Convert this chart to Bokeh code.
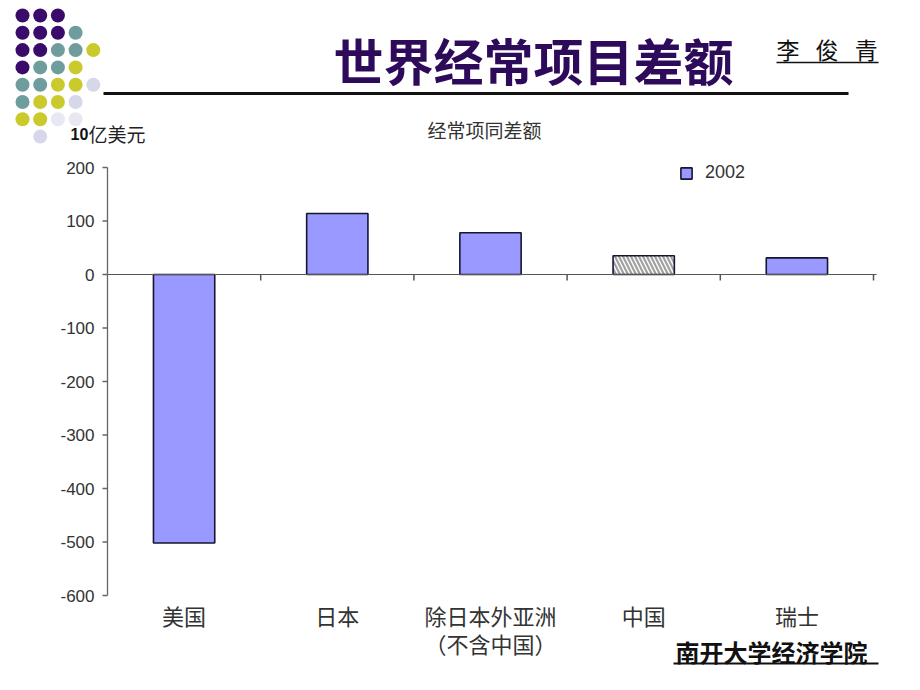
from bokeh.plotting import figure
from bokeh.models import Range1d, ColumnDataSource, Legend, LegendItem
from bokeh.embed import file_html
from bokeh.resources import INLINE
from bokeh.core.properties import value

# ---------------- data ----------------
categories = ["美国", "日本", "除日本外亚洲\n（不含中国）", "中国", "瑞士"]
balance_2002 = [-502, 114, 78, 35, 31]
hatched_category = "中国"
series_name = "2002"
y_ticks = [-600, -500, -400, -300, -200, -100, 0, 100, 200]

page_title = "世界经常项目差额"
chart_title = "经常项同差额"
unit_number = "10"
unit_text = "亿美元"
author = "李\u2002\u2009俊\u2002\u2009青"
institution = "南开大学经济学院"

# decorative dot grid (P purple, T teal, Y yellow-green, L lavender, F faint)
dot_rows = ["PPP", "PPPT", "PPTTY", "PTTY", "TTYYL", "TYYL", "YYFF", ".L"]
dot_colors = {"P": "#3a0b6b", "T": "#6f9d9d", "Y": "#caca2c", "L": "#d7d7ea", "F": "#e8e8f2"}

CJK = "Noto Sans CJK SC"
LAT = "Liberation Sans"

# ---------------- layout (page pixels) ----------------
W, H = 920, 690
PLOT_L, PLOT_R = 107, 873      # x extent of the category area
PLOT_T, PLOT_B = 167, 595      # y of the top and bottom ticks

n = len(categories)
ux = n / (PLOT_R - PLOT_L)                           # category units per pixel
uy = (y_ticks[-1] - y_ticks[0]) / (PLOT_B - PLOT_T)  # value units per pixel

p = figure(width=W, height=H,
           x_range=Range1d(-PLOT_L * ux, n + (W - PLOT_R) * ux),
           y_range=Range1d(y_ticks[0] - (H - PLOT_B) * uy, y_ticks[-1] + PLOT_T * uy),
           output_backend="svg", toolbar_location=None, min_border=0,
           x_axis_location=None, y_axis_location=None, outline_line_color=None,
           background_fill_color="white", border_fill_color="white")
p.grid.visible = False
p.extra_x_ranges = {"px": Range1d(0, W)}
p.extra_y_ranges = {"py": Range1d(H, 0)}
PG = dict(x_range_name="px", y_range_name="py")

# ---------------- header decorations ----------------
dx, dy, x0, y0 = 17.7, 17.3, 22, 15
dxs, dys, dcs = [], [], []
for r, row in enumerate(dot_rows):
    for c, ch in enumerate(row):
        if ch in dot_colors:
            dxs.append(x0 + c * dx)
            dys.append(y0 + r * dy)
            dcs.append(dot_colors[ch])
p.scatter(x=dxs, y=dys, size=14, fill_color=dcs, line_color=None, **PG)

p.text(x=[333], y=[58], text=[page_title], text_font=value(CJK), text_font_size="50px",
       text_font_style="bold", text_color="#2d0b5a", text_baseline="middle",
       text_align="left", **PG)
p.text(x=[776], y=[48], text=[author], text_font=value(CJK), text_font_size="23px",
       text_color="#111111", text_baseline="middle", text_align="left", **PG)
p.segment(x0=[776], y0=[62], x1=[878], y1=[62], line_color="#111111", line_width=1.5, **PG)
p.segment(x0=[103], y0=[93], x1=[848], y1=[93], line_color="#111111", line_width=3, **PG)

p.text(x=[70], y=[133], text=[unit_number], text_font=value(LAT), text_font_style="bold",
       text_font_size="16px", text_color="#111111", text_baseline="middle",
       text_align="left", **PG)
p.text(x=[88], y=[133], text=[unit_text], text_font=value(CJK), text_font_size="19px",
       text_color="#222222", text_baseline="middle", text_align="left", **PG)
p.text(x=[484], y=[129], text=[chart_title], text_font=value(CJK), text_font_size="19px",
       text_color="#333333", text_baseline="middle", text_align="center", **PG)

p.text(x=[675], y=[651], text=[institution], text_font=value(CJK), text_font_size="24px",
       text_font_style="bold", text_color="#111111", text_baseline="middle",
       text_align="left", **PG)
p.segment(x0=[673], y0=[663], x1=[878], y1=[663], line_color="#111111", line_width=2, **PG)

# ---------------- chart ----------------
cat_pos = [i + 0.5 for i in range(n)]
solid = [(x, v) for x, c, v in zip(cat_pos, categories, balance_2002) if c != hatched_category]
hatch = [(x, v) for x, c, v in zip(cat_pos, categories, balance_2002) if c == hatched_category]
solid_src = ColumnDataSource(dict(x=[a for a, _ in solid], val=[b for _, b in solid]))
hatch_src = ColumnDataSource(dict(x=[a for a, _ in hatch], val=[b for _, b in hatch]))

r_main = p.vbar(x="x", top="val", bottom=0, width=0.4, source=solid_src,
                fill_color="#9999ff", line_color="#161633", line_width=1.6)
p.vbar(x="x", top="val", bottom=0, width=0.4, source=hatch_src,
       fill_color="white", line_color="#161633", line_width=1.6,
       hatch_pattern=value("left_diagonal_line"), hatch_color="#a0a0a0",
       hatch_scale=8, hatch_weight=2.2)

AXC = "#666666"
# zero line and category separator ticks
p.segment(x0=[0], y0=[0], x1=[n + 3 * ux], y1=[0], line_color="#555555", line_width=1)
bounds = list(range(1, n + 1))
p.segment(x0=bounds, y0=[0] * n, x1=bounds, y1=[-6 * uy] * n,
          line_color="#555555", line_width=1.5)

# value axis
p.segment(x0=[0], y0=[y_ticks[0]], x1=[0], y1=[y_ticks[-1]], line_color=AXC, line_width=1.3)
p.segment(x0=[-5 * ux] * len(y_ticks), y0=y_ticks, x1=[0] * len(y_ticks), y1=y_ticks,
          line_color=AXC, line_width=1.3)
p.text(x=[0] * len(y_ticks), y=y_ticks, text=[str(t) for t in y_ticks], x_offset=-13,
       text_font=value(LAT), text_font_size="17px", text_color="#333333",
       text_baseline="middle", text_align="right")

# category labels
p.text(x=cat_pos, y=[y_ticks[0]] * n, text=categories, y_offset=3,
       text_font=value(CJK), text_font_size="22px", text_color="#333333",
       text_baseline="top", text_align="center", text_line_height=0.88)

legend = Legend(items=[LegendItem(label=series_name, renderers=[r_main])],
                location=(679, H - 183))
legend.padding = 0
legend.margin = 0
legend.spacing = 0
legend.border_line_color = None
legend.background_fill_alpha = 0
legend.glyph_width = 14
legend.glyph_height = 14
legend.label_height = 14
legend.label_text_font = LAT
legend.label_text_font_size = "18px"
legend.label_text_color = "#333333"
legend.label_standoff = 12
p.add_layout(legend)

open("out.html", "w").write(file_html(p, INLINE))
